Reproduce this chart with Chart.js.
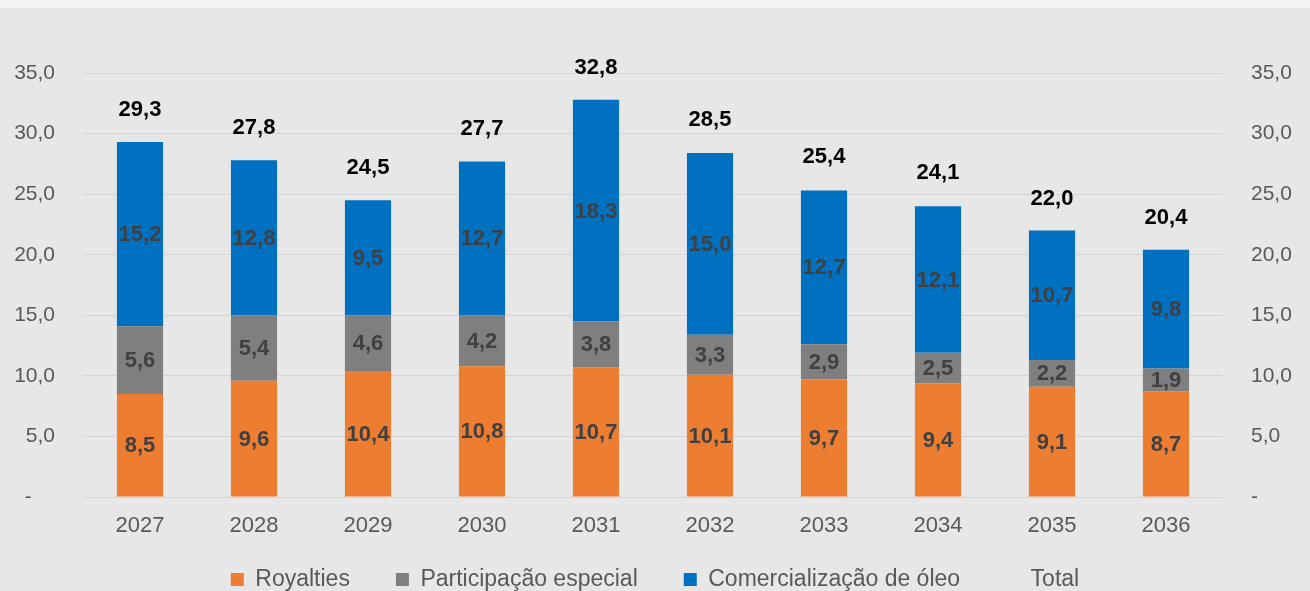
<!DOCTYPE html>
<html>
<head>
<meta charset="utf-8">
<script src="https://cdn.jsdelivr.net/npm/chart.js@4.4.1/dist/chart.umd.min.js"></script>
<style>
  html, body { margin: 0; padding: 0; overflow: hidden; background: #e7e7e7; width: 1310px; height: 591px; }
  #strip { position: absolute; left: 0; top: 0; width: 1310px; height: 8px; background: #f3f3f3; }
  #wrap { position: absolute; left: 0; top: 0; width: 1310px; height: 634px; }
</style>
</head>
<body>
<div id="strip"></div>
<div id="wrap"><canvas id="c"></canvas></div>
<script>
const categories = ['2027','2028','2029','2030','2031','2032','2033','2034','2035','2036'];
const royalties = [8.5, 9.6, 10.4, 10.8, 10.7, 10.1, 9.7, 9.4, 9.1, 8.7];
const participacao = [5.6, 5.4, 4.6, 4.2, 3.8, 3.3, 2.9, 2.5, 2.2, 1.9];
const comercializacao = [15.2, 12.8, 9.5, 12.7, 18.3, 15.0, 12.7, 12.1, 10.7, 9.8];
const total = [29.3, 27.8, 24.5, 27.7, 32.8, 28.5, 25.4, 24.1, 22.0, 20.4];
const seriesNames = ['Royalties', 'Participação especial', 'Comercialização de óleo', 'Total'];
const yTicks = [0, 5, 10, 15, 20, 25, 30, 35];

const FONT = "'Liberation Sans', Arial, sans-serif";
const fmt = v => v.toFixed(1).replace('.', ',');

const labelPlugin = {
  id: 'valueLabels',
  afterLayout(chart) {
    // lift the legend row so its text sits just under the year labels
    if (chart.legend) { chart.legend.top -= 33; chart.legend.bottom -= 33; }
  },
  afterDatasetsDraw(chart) {
    const ctx = chart.ctx;
    ctx.save();
    ctx.textAlign = 'center';
    ctx.textBaseline = 'middle';
    ctx.font = "bold 22px " + FONT;
    for (let d = 0; d < 3; d++) {
      const meta = chart.getDatasetMeta(d);
      const data = chart.data.datasets[d].data;
      ctx.fillStyle = '#404040';
      meta.data.forEach((el, i) => {
        const y = (el.y + el.base) / 2;
        ctx.fillText(fmt(data[i]), el.x, y + 1);
      });
    }
    const barMeta = chart.getDatasetMeta(2);
    const yScale = chart.scales.y;
    ctx.fillStyle = '#000000';
    total.forEach((v, i) => {
      const x = barMeta.data[i].x;
      const y = yScale.getPixelForValue(v) - 32;
      ctx.fillText(fmt(v), x, y);
    });
    ctx.restore();
  }
};

const tickCommon = {
  color: '#595959',
  font: { family: FONT, size: 21 },
  padding: 28
};

new Chart(document.getElementById('c'), {
  data: {
    labels: categories,
    datasets: [
      { type: 'bar', label: seriesNames[0], data: royalties, backgroundColor: '#ED7D31', stack: 's', barPercentage: 0.405, categoryPercentage: 1.0 },
      { type: 'bar', label: seriesNames[1], data: participacao, backgroundColor: '#7F7F7F', stack: 's', barPercentage: 0.405, categoryPercentage: 1.0 },
      { type: 'bar', label: seriesNames[2], data: comercializacao, backgroundColor: '#0070C0', stack: 's', barPercentage: 0.405, categoryPercentage: 1.0 },
      { type: 'line', label: seriesNames[3], data: total, stack: 'tot', showLine: false, pointRadius: 0, backgroundColor: 'rgba(0,0,0,0)', borderColor: 'rgba(0,0,0,0)', borderWidth: 0 }
    ]
  },
  options: {
    responsive: true,
    maintainAspectRatio: false,
    animation: false,
    events: [],
    layout: { padding: { top: 73, left: 0, right: 0, bottom: 0 } },
    plugins: {
      tooltip: { enabled: false },
      legend: {
        position: 'bottom',
        labels: {
          color: '#595959',
          font: { family: FONT, size: 23 },
          boxWidth: 13,
          boxHeight: 13,
          padding: 46
        }
      }
    },
    scales: {
      x: {
        stacked: true,
        grid: { display: false, drawTicks: false },
        border: { display: false },
        ticks: { color: '#595959', font: { family: FONT, size: 22 }, padding: 16 },
        afterFit(s) { s.height = 58; }
      },
      y: {
        stacked: true,
        position: 'left',
        min: 0, max: 35,
        afterBuildTicks(s) { s.ticks = yTicks.map(v => ({ value: v })); },
        grid: { color: '#d4d4d4', lineWidth: 1, drawTicks: false },
        border: { display: false },
        ticks: Object.assign({}, tickCommon, { callback: v => v === 0 ? '-    ' : fmt(v) }),
        afterFit(s) { s.width = 83; }
      },
      y2: {
        position: 'right',
        min: 0, max: 35,
        afterBuildTicks(s) { s.ticks = yTicks.map(v => ({ value: v })); },
        grid: { display: false, drawTicks: false },
        border: { display: false },
        ticks: Object.assign({}, tickCommon, { callback: v => v === 0 ? '-' : fmt(v) }),
        afterFit(s) { s.width = 87; }
      }
    }
  },
  plugins: [labelPlugin]
});
</script>
</body>
</html>
